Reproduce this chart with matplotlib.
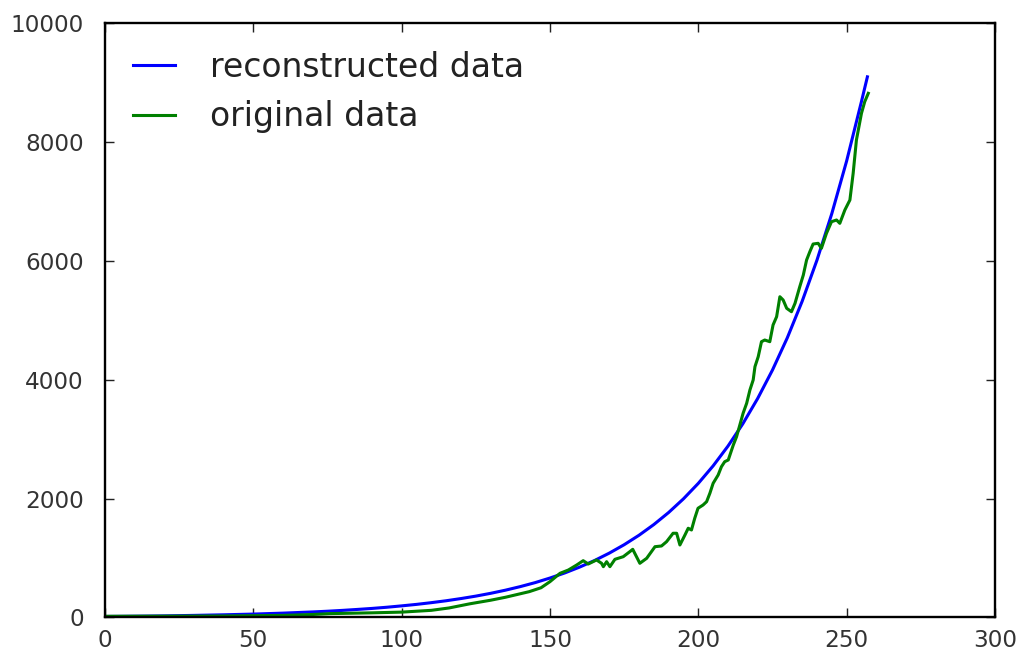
import matplotlib
matplotlib.use("Agg")
import matplotlib.pyplot as plt

# reconstructed (smooth fit) curve
recon_x = [0, 5, 10, 15, 20, 25, 30, 35, 40, 45, 50, 55, 60, 65, 70, 75, 80, 85, 90, 95,
           100, 105, 110, 115, 120, 125, 130, 135, 140, 145, 150, 155, 160, 165, 170, 175,
           180, 185, 190, 195, 200, 205, 210, 215, 220, 225, 230, 235, 240, 245, 250, 255, 257]
recon_y = [17, 19, 21.5, 24, 27, 31, 35, 40, 45, 51, 57, 65, 73, 83, 93, 105, 119, 135, 152, 172,
           195, 220, 249, 281, 318, 359, 406, 459, 519, 586, 663, 749, 847, 957, 1082, 1223,
           1382, 1562, 1765, 1995, 2255, 2549, 2881, 3256, 3681, 4160, 4702, 5315, 6008, 6790, 7675, 8675, 9090]

# original data
orig_x = [0, 20, 40, 60, 70, 76, 90, 100, 110, 116, 123, 130, 135, 143, 147,
          150, 153.4, 156.2, 159, 161.2, 162.9, 165.7, 167.4, 168, 169.1, 170.2, 171.9, 174.7,
          176.9, 177.9, 180.3, 182.6, 185.4, 187.6, 189.3, 191.5, 192.7, 193.8, 195.5,
          196.6, 197.7, 198.8, 199.9, 201.6, 202.8, 203.9, 205, 206.7, 207.8, 208.9, 210.1,
          211.8, 212.9, 214, 215.1, 216.3, 217.4, 218.5, 219.1, 220.2, 221.3, 222.4, 224.1,
          225.2, 226.4, 227.5, 228.6, 229.8, 231.4, 232.6, 234.2, 235.4, 236.5, 237.6, 238.7,
          240.4, 241.5, 243.2, 244.9, 246.6, 247.7, 249.4, 251.1, 252.2, 253.3, 255, 256.1, 257.3]
orig_y = [20, 22, 25, 35, 50, 65, 78, 90, 120, 160, 230, 290, 340, 434, 500,
          602, 743, 798, 882, 955, 899, 967, 911, 854, 938, 854, 978, 1022,
          1106, 1146, 911, 995, 1190, 1202, 1274, 1416, 1416, 1219, 1387,
          1500, 1471, 1668, 1836, 1891, 1947, 2088, 2256, 2396, 2535, 2619, 2648,
          2900, 3040, 3236, 3433, 3601, 3825, 3993, 4217, 4385, 4637, 4665, 4637,
          4918, 5057, 5393, 5338, 5198, 5141, 5282, 5561, 5758, 6010, 6150, 6279,
          6291, 6207, 6459, 6654, 6683, 6627, 6851, 7019, 7468, 8028, 8477, 8672, 8813]

x_ticks = [0, 50, 100, 150, 200, 250, 300]
y_ticks = [0, 2000, 4000, 6000, 8000, 10000]

fig = plt.figure(figsize=(1021 / 170, 651 / 170), dpi=170)
ax = fig.add_axes([0.1028, 0.0515, 0.9745 - 0.1028, 0.9651 - 0.0515])
ax.plot(recon_x, recon_y, color="#0000ff", lw=1.3, label="reconstructed data")
ax.plot(orig_x, orig_y, color="#008000", lw=1.3, label="original data")
ax.set_xlim(0, 300)
ax.set_ylim(0, 10000)
ax.set_xticks(x_ticks)
ax.set_yticks(y_ticks)
ax.tick_params(direction="in", length=4, width=0.6, top=True, right=True, labelsize=9.8,
               colors="#222222", labelcolor="#333333")
ax.tick_params(axis="x", pad=5)
ax.tick_params(axis="y", pad=9)
for s in ax.spines.values():
    s.set_linewidth(1.0)
leg = ax.legend(loc="upper left", frameon=False, fontsize=14, handlelength=1.27,
                handletextpad=1.05, borderaxespad=0.45, labelspacing=0.5)
for t in leg.get_texts():
    t.set_color("#222222")
fig.savefig("out.png", dpi=170)
